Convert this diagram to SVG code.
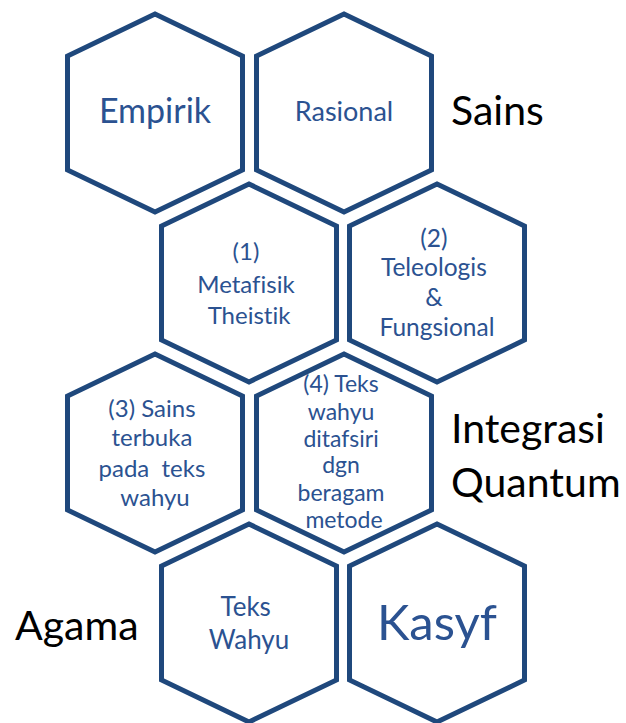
<svg xmlns="http://www.w3.org/2000/svg" xmlns:xlink="http://www.w3.org/1999/xlink" width="626" height="723" viewBox="0 0 626 723">
  <style>
    .hex { fill: #FFFFFF; stroke: #1F487C; stroke-width: 5; stroke-linejoin: miter; }
    .t { font-family: Lato, "Liberation Sans", sans-serif; fill: #2B5291; text-anchor: middle; font-variant-ligatures: none; font-feature-settings: "liga" 0, "clig" 0; }
    .lbl { font-family: Lato, "Liberation Sans", sans-serif; fill: #000000; font-size: 41px; font-variant-ligatures: none; }
  </style>
  <defs>
    <path id="hexshape" d="M0,-99 L87.5,-57 L87.5,57 L0,99 L-87.5,57 L-87.5,-57 Z"/>
  </defs>
  <rect width="626" height="723" fill="#FFFFFF"/>

  <g id="connectors"></g>

  <g id="empirik">
    <use xlink:href="#hexshape" href="#hexshape" class="hex" transform="translate(155,113)"/>
    <text class="t" x="155" y="123" font-size="34">Empirik</text>
  </g>
  <g id="rasional">
    <use xlink:href="#hexshape" href="#hexshape" class="hex" transform="translate(344,113)"/>
    <text class="t" x="344" y="121" font-size="27">Rasional</text>
  </g>
  <g id="metafisik">
    <use xlink:href="#hexshape" href="#hexshape" class="hex" transform="translate(249,283)"/>
    <text class="t" font-size="24">
      <tspan x="249" y="260">(1)</tspan>
      <tspan x="249" y="292.5">Metafisik</tspan>
      <tspan x="249" y="324">Theistik</tspan>
    </text>
  </g>
  <g id="teleologis">
    <use xlink:href="#hexshape" href="#hexshape" class="hex" transform="translate(437,283)"/>
    <text class="t" font-size="24.5">
      <tspan x="437" y="247">(2)</tspan>
      <tspan x="437" y="276">Teleologis</tspan>
      <tspan x="437" y="306">&amp;</tspan>
      <tspan x="437" y="335.5">Fungsional</tspan>
    </text>
  </g>
  <g id="sains-terbuka">
    <use xlink:href="#hexshape" href="#hexshape" class="hex" transform="translate(155,453)"/>
    <text class="t" font-size="24">
      <tspan x="155" y="417">(3) Sains</tspan>
      <tspan x="155" y="446">terbuka</tspan>
      <tspan x="155" y="476.5" xml:space="preserve">pada  teks</tspan>
      <tspan x="155" y="505.5">wahyu</tspan>
    </text>
  </g>
  <g id="teks-ditafsiri">
    <use xlink:href="#hexshape" href="#hexshape" class="hex" transform="translate(344,453)"/>
    <text class="t" font-size="23">
      <tspan x="344" y="391.5">(4) Teks</tspan>
      <tspan x="344" y="419.5">wahyu</tspan>
      <tspan x="344" y="446.5">ditafsiri</tspan>
      <tspan x="344" y="473">dgn</tspan>
      <tspan x="344" y="501">beragam</tspan>
      <tspan x="344" y="528">metode</tspan>
    </text>
  </g>
  <g id="teks-wahyu">
    <use xlink:href="#hexshape" href="#hexshape" class="hex" transform="translate(249,623)"/>
    <text class="t" font-size="26">
      <tspan x="249" y="616">Teks</tspan>
      <tspan x="249" y="649">Wahyu</tspan>
    </text>
  </g>
  <g id="kasyf">
    <use xlink:href="#hexshape" href="#hexshape" class="hex" transform="translate(437,623)"/>
    <text class="t" x="437" y="640" font-size="49">Kasyf</text>
  </g>

  <g id="labels">
    <text class="lbl" x="451" y="125">Sains</text>
    <text class="lbl" x="451" y="443">Integrasi</text>
    <text class="lbl" x="451" y="497">Quantum</text>
    <text class="lbl" x="15" y="640">Agama</text>
  </g>
</svg>
